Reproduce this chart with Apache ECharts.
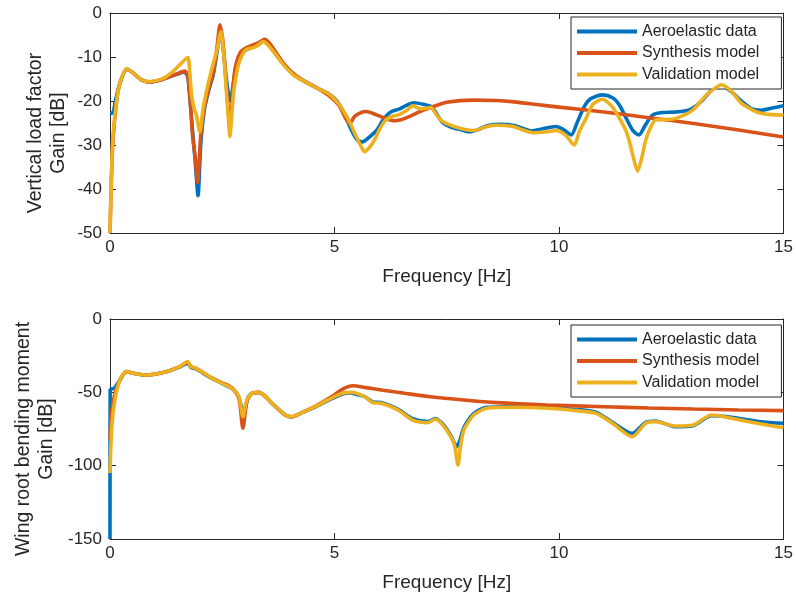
<!DOCTYPE html>
<html><head><meta charset="utf-8">
<script src="https://cdn.jsdelivr.net/npm/echarts@6/dist/echarts.min.js"></script>
<style>html,body{margin:0;padding:0;background:#fff}#c{width:796px;height:596px}</style>
</head><body><div id="c"></div>
<script>
// ---- Data (frequency [Hz], gain [dB]) ----
const seriesNames = ['Aeroelastic data', 'Synthesis model', 'Validation model'];
const xTicks = [0, 5, 10, 15];
const topYTicks = [0, -10, -20, -30, -40, -50];
const botYTicks = [0, -50, -100, -150];

const nzAero = [[0,-22.8],[0.07,-22.6],[0.12,-20],[0.22,-16],[0.37,-12.8],[0.5,-13.5],[0.7,-15.2],[0.9,-15.7],[1.1,-15.3],[1.3,-14.6],[1.5,-13.9],[1.66,-13.4],[1.73,-14.5],[1.78,-19.5],[1.84,-27],[1.9,-34],[1.96,-41.5],[2.02,-30],[2.1,-22],[2.2,-17.5],[2.3,-14],[2.38,-9],[2.46,-4.5],[2.52,-8],[2.58,-14],[2.64,-18.5],[2.68,-20],[2.74,-16.5],[2.8,-12.5],[2.9,-9.5],[3.05,-8.3],[3.2,-7.7],[3.3,-7.2],[3.42,-6.3],[3.55,-7.5],[3.7,-9.5],[3.9,-12],[4.1,-14],[4.34,-15.6],[4.6,-17],[4.86,-18.3],[5.05,-20],[5.2,-22.5],[5.35,-26],[5.5,-28.8],[5.62,-29.3],[5.8,-28],[5.95,-26.5],[6.1,-24],[6.25,-22.5],[6.45,-21.8],[6.6,-21],[6.77,-20.4],[7.0,-20.8],[7.14,-21.2],[7.25,-22.5],[7.4,-24.8],[7.6,-26],[7.8,-26.5],[8.0,-27],[8.2,-26.5],[8.4,-25.6],[8.7,-25.3],[9.0,-25.6],[9.25,-26.4],[9.4,-26.8],[9.6,-26.4],[9.94,-25.8],[10.1,-26.5],[10.27,-27.7],[10.4,-25],[10.55,-21.5],[10.7,-19.5],[10.97,-18.6],[11.2,-19.3],[11.35,-21],[11.5,-24],[11.65,-26.8],[11.78,-27.7],[11.92,-25.5],[12.08,-23.2],[12.3,-22.6],[12.6,-22.5],[12.9,-22],[13.18,-20],[13.4,-17.5],[13.62,-16.5],[13.85,-18],[14.06,-20],[14.3,-21.8],[14.5,-22.1],[14.75,-21.6],[15,-21.1]];
const nzSynth = [[0,-50],[0.03,-38],[0.07,-28.5],[0.15,-19.8],[0.22,-16],[0.37,-12.8],[0.5,-13.5],[0.7,-15.2],[0.9,-15.7],[1.1,-15.3],[1.3,-14.6],[1.5,-13.8],[1.66,-13.2],[1.73,-14],[1.78,-19],[1.84,-28],[1.9,-33],[1.95,-38.5],[2.02,-28],[2.1,-21.5],[2.2,-17.2],[2.3,-13.5],[2.38,-8],[2.45,-2.7],[2.52,-7],[2.58,-15],[2.64,-23],[2.67,-26],[2.72,-20],[2.78,-13],[2.9,-9],[3.05,-7.8],[3.2,-7.2],[3.3,-6.8],[3.45,-6],[3.6,-7.5],[3.8,-10.5],[4.0,-13],[4.3,-15.3],[4.6,-17],[4.9,-19],[5.1,-21],[5.25,-24],[5.34,-25],[5.45,-23.5],[5.6,-22.6],[5.71,-22.4],[5.9,-23],[6.1,-23.8],[6.33,-24.5],[6.5,-24.2],[6.7,-23.4],[6.9,-22.4],[7.14,-21.5],[7.5,-20.3],[8.1,-19.8],[8.6,-19.9],[9.0,-20.2],[9.5,-20.8],[10,-21.4],[11,-22.5],[12,-23.8],[13,-25.1],[14,-26.6],[15,-28.2]];
const nzValid = [[0,-50],[0.03,-38],[0.06,-29],[0.15,-19.8],[0.22,-16],[0.37,-12.6],[0.5,-13.5],[0.7,-15.2],[0.88,-15.6],[1.1,-15.2],[1.25,-14.5],[1.4,-13.3],[1.55,-11.8],[1.73,-10.1],[1.78,-14],[1.82,-19],[1.88,-22],[1.92,-23],[2.0,-27],[2.07,-22],[2.14,-18.2],[2.28,-12.2],[2.38,-8.5],[2.47,-4.2],[2.53,-9],[2.58,-16],[2.63,-23],[2.67,-28.1],[2.72,-22],[2.76,-17.5],[2.87,-11.4],[3.02,-8.4],[3.24,-7.7],[3.42,-6.5],[3.61,-8.4],[3.9,-12.2],[4.1,-14.2],[4.34,-15.6],[4.6,-17],[4.86,-18.3],[5.08,-20.5],[5.23,-22.8],[5.3,-24],[5.45,-27.3],[5.6,-30.5],[5.67,-31.5],[5.78,-30.5],[5.89,-28.9],[6.0,-26.5],[6.11,-24.7],[6.25,-23.6],[6.41,-23.2],[6.6,-22.2],[6.74,-21.1],[6.92,-21.8],[7.14,-21.5],[7.25,-22.8],[7.36,-24.3],[7.66,-25.8],[8.1,-26.7],[8.4,-25.8],[8.61,-25.5],[8.98,-25.8],[9.2,-26.6],[9.43,-27.2],[9.72,-27],[9.94,-26.7],[10.15,-27.8],[10.34,-30],[10.45,-27],[10.6,-24],[10.75,-20.8],[10.97,-19.6],[11.2,-21.5],[11.35,-24],[11.48,-26.5],[11.56,-28.9],[11.66,-33],[11.75,-36],[11.84,-33],[11.93,-28.9],[12.04,-26],[12.15,-24.3],[12.4,-24.2],[12.59,-24],[12.96,-22.2],[13.3,-18.5],[13.62,-16.3],[13.84,-17.8],[14.06,-20.5],[14.3,-22],[14.5,-22.8],[14.75,-23.1],[15,-23.2]];

const wrbmAero = [[0,-150],[0.004,-48.4],[0.1,-47],[0.22,-41.6],[0.37,-35.9],[0.52,-37],[0.81,-38.2],[1.25,-35.9],[1.55,-32.8],[1.7,-30.5],[1.76,-31],[1.8,-33],[1.92,-34],[2.21,-39.5],[2.5,-44],[2.72,-47.5],[2.85,-52],[2.93,-60],[2.97,-67],[3.02,-60],[3.08,-53],[3.17,-50.7],[3.31,-50.2],[3.45,-52.5],[3.61,-57.5],[3.9,-65.5],[4.05,-66.8],[4.3,-63.5],[4.57,-60],[4.93,-54.5],[5.2,-51],[5.35,-50.5],[5.5,-51.5],[5.67,-53],[5.85,-56.5],[6.04,-57],[6.41,-61.5],[6.74,-68],[7.07,-70],[7.25,-67.8],[7.44,-72.5],[7.6,-80],[7.72,-87],[7.8,-82],[7.88,-74],[8.1,-64.5],[8.39,-60.2],[8.98,-59.8],[9.72,-60.2],[10.3,-61.5],[10.82,-63.5],[11.19,-70.5],[11.63,-78],[11.93,-70.5],[12.15,-69.5],[12.59,-73.5],[12.96,-73],[13.4,-66],[13.84,-67],[14.5,-70],[15,-71.1]];
const wrbmSynth = [[0,-82],[0.03,-65],[0.1,-52],[0.22,-41.6],[0.37,-35.9],[0.52,-37],[0.81,-38.2],[1.25,-35.9],[1.55,-32.5],[1.73,-29.5],[1.8,-32.5],[1.92,-33.6],[2.21,-39.3],[2.5,-43.5],[2.72,-47],[2.87,-54],[2.96,-74.5],[3.05,-56],[3.17,-50.5],[3.31,-50],[3.45,-52.5],[3.61,-57.5],[3.9,-65.5],[4.05,-66.6],[4.3,-63.5],[4.57,-59.5],[4.93,-53],[5.2,-47.5],[5.41,-45.5],[5.7,-46.8],[6.04,-48.4],[6.6,-50.8],[7.14,-53],[7.88,-55.2],[8.61,-57],[9.72,-58.6],[11,-59.8],[12,-60.7],[13,-61.4],[14,-62],[15,-62.5]];
const wrbmValid = [[0,-105],[0.04,-73.4],[0.11,-55],[0.22,-41.6],[0.37,-35.9],[0.52,-37],[0.81,-38.2],[1.25,-35.9],[1.55,-32.5],[1.73,-29],[1.8,-32.5],[1.92,-33.6],[2.21,-39.3],[2.5,-43.9],[2.72,-47.3],[2.87,-53],[2.96,-66.6],[3.05,-55],[3.17,-50.7],[3.31,-50.2],[3.45,-52.5],[3.61,-57.5],[3.9,-65.5],[4.05,-66.6],[4.3,-63.5],[4.57,-59.8],[4.93,-54],[5.23,-50.2],[5.4,-50],[5.67,-53],[5.85,-57],[6.04,-57.5],[6.41,-62],[6.74,-68.9],[7.07,-70.7],[7.25,-68.4],[7.44,-73.4],[7.66,-84.8],[7.75,-99.5],[7.8,-88],[7.88,-75.7],[8.1,-65.5],[8.39,-60.9],[8.98,-60.2],[9.72,-60.9],[10.3,-62.2],[10.82,-64.3],[11.19,-71.1],[11.63,-80.2],[11.93,-71.1],[12.15,-70],[12.59,-73],[12.96,-72.5],[13.4,-65.5],[13.84,-67.7],[14.5,-71.6],[15,-74.1]];

const colors = ['#0072BD', '#D95319', '#EDB120'];

// ---- Chart ----
const FONT = '"Liberation Sans", Arial, Helvetica, sans-serif';
const AX = '#262626';
const chart = echarts.init(document.getElementById('c'), null, {renderer: 'canvas'});

function xAx(gi, pos, main) {
  return {
    type: 'value', gridIndex: gi, position: pos, min: 0, max: 15, interval: 5,
    name: main ? 'Frequency [Hz]' : '', nameLocation: 'middle', nameGap: 34,
    nameTextStyle: {fontFamily: FONT, fontSize: 19, color: AX},
    axisLine: {show: true, onZero: false, lineStyle: {color: AX, width: 1}},
    axisTick: {show: true, inside: true, length: 6, lineStyle: {color: AX}},
    axisLabel: {show: main, fontFamily: FONT, fontSize: 17, color: AX, margin: 6},
    splitLine: {show: false}
  };
}
function yAx(gi, pos, main, min, max, interval, name, gap) {
  return {
    type: 'value', gridIndex: gi, position: pos, min: min, max: max, interval: interval,
    name: main ? name : '', nameLocation: 'middle', nameGap: gap || 40, nameMoveOverlap: false,
    nameTextStyle: {fontFamily: FONT, fontSize: 19.5, color: AX, lineHeight: 23, padding: [0, 20, 0, 0]},
    axisLine: {show: true, onZero: false, lineStyle: {color: AX, width: 1}},
    axisTick: {show: true, inside: true, length: 6, lineStyle: {color: AX}},
    axisLabel: {show: main, fontFamily: FONT, fontSize: 17, color: AX, margin: 8},
    splitLine: {show: false}
  };
}
function ser(name, data, xi, yi, ci) {
  return {
    type: 'line', name: name, data: data, xAxisIndex: xi, yAxisIndex: yi,
    symbol: 'none', smooth: 0.25, lineStyle: {color: colors[ci], width: 3.6},
    itemStyle: {color: colors[ci]}, animation: false, z: 2 + ci
  };
}
function leg(top) {
  return {
    left: 571, top: top, orient: 'vertical', data: seriesNames,
    icon: 'rect', itemWidth: 60, itemHeight: 4, itemGap: 4.5, itemTextGap: 4,
    backgroundColor: '#fff', borderColor: AX, borderWidth: 1, padding: [6, 22, 6, 6],
    textStyle: {fontFamily: FONT, fontSize: 16, color: AX, lineHeight: 17}
  };
}

chart.setOption({
  animation: false,
  backgroundColor: '#fff',
  grid: [
    {left: 110, top: 13, width: 679, height: 220},
    {left: 110, top: 319, width: 679, height: 220}
  ],
  xAxis: [xAx(0, 'bottom', true), xAx(1, 'bottom', true), xAx(0, 'top', false), xAx(1, 'top', false)],
  yAxis: [
    yAx(0, 'left', true, -50, 0, 10, 'Vertical load factor\nGain [dB]', 40),
    yAx(1, 'left', true, -150, 0, 50, 'Wing root bending moment\nGain [dB]', 52),
    yAx(0, 'right', false, -50, 0, 10, ''),
    yAx(1, 'right', false, -150, 0, 50, '')
  ],
  legend: [leg(17), leg(325)],
  series: [
    ser(seriesNames[0], nzAero, 0, 0, 0),
    ser(seriesNames[1], nzSynth, 0, 0, 1),
    ser(seriesNames[2], nzValid, 0, 0, 2),
    ser(seriesNames[0], wrbmAero, 1, 1, 0),
    ser(seriesNames[1], wrbmSynth, 1, 1, 1),
    ser(seriesNames[2], wrbmValid, 1, 1, 2)
  ]
});
</script></body></html>
